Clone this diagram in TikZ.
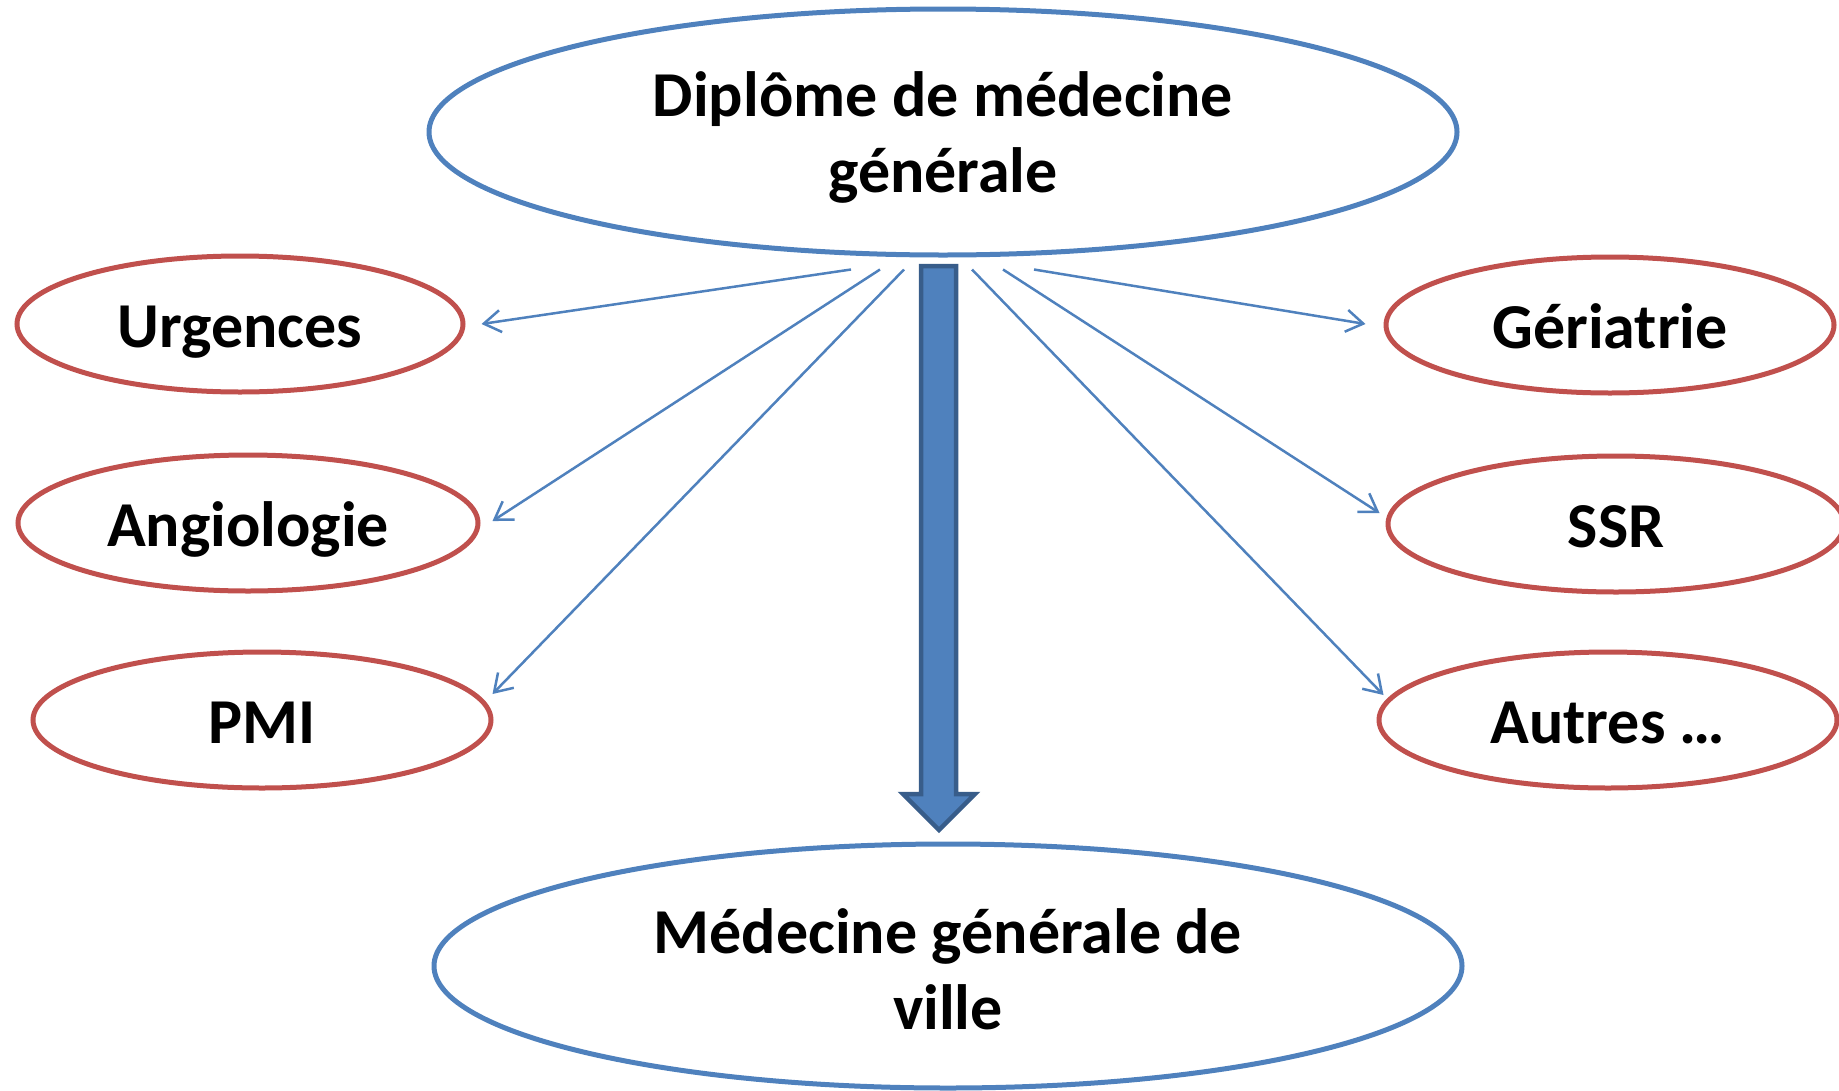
\documentclass[tikz,border=0pt]{standalone}
\usepackage{fontspec}
\setmainfont{Carlito}
\usetikzlibrary{shapes.geometric,arrows.meta,calc}
\definecolor{ublue}{HTML}{4F81BD}
\definecolor{ured}{HTML}{C0504D}
\definecolor{dblue}{HTML}{385D8A}
\begin{document}
\begin{tikzpicture}[x=1pt,y=-1pt,
  txt/.style={font=\fontsize{64}{76}\selectfont\bfseries, align=center},
  bigell/.style={ellipse, draw=ublue, line width=5pt, inner sep=0pt},
  smell/.style={ellipse, draw=ured, line width=5pt, inner sep=0pt, minimum height=136pt, txt, text height=46pt, text depth=0pt},
  conn/.style={draw=ublue, line width=2.5pt, -{Straight Barb[length=17pt,width=22pt,line width=2.5pt]}}
]
\useasboundingbox (0,0) rectangle (1839,1090);
\node[bigell, minimum width=1028pt, minimum height=246pt] (top) at (943,132) {};
\node[txt] (toptxt) at (943,137) {Diplôme de médecine\\générale};
\node[bigell, minimum width=1028pt, minimum height=244pt] (bot) at (948,966) {};
\node[txt] (bottxt) at (948,969) {Médecine générale de\\ville};
\node[smell, minimum width=446pt] (u) at (240,324) {Urgences};
\node[smell, minimum width=460pt] (a) at (248,523) {Angiologie};
\node[smell, minimum width=458pt] (p) at (262,720) {PMI};
\node[smell, minimum width=448pt] (g) at (1610,325) {Gériatrie};
\node[smell, minimum width=456pt] (s) at (1616,524) {SSR};
\node[smell, minimum width=458pt] (au) at (1608,720) {Autres …};
\coordinate (s1) at ($(top.south)+(-92,12)$);
\coordinate (s2) at ($(top.south)+(-63,12)$);
\coordinate (s3) at ($(top.south)+(-39,12)$);
\coordinate (s4) at ($(top.south)+(29,12)$);
\coordinate (s5) at ($(top.south)+(60,12)$);
\coordinate (s6) at ($(top.south)+(91,12)$);
\coordinate (e1) at ($(u.east)+(16,0)$);
\coordinate (e2) at ($(a.east)+(12,-2)$);
\coordinate (e3) at ($(p.east)+(-1,-26)$);
\coordinate (e4) at ($(au.west)+(7,-25)$);
\coordinate (e5) at ($(s.west)+(-6,-11)$);
\coordinate (e6) at ($(g.west)+(-18,-1)$);
\draw[conn] (s1) -- (e1);
\draw[conn] (s2) -- (e2);
\draw[conn] (s3) -- (e3);
\draw[conn] (s4) -- (e4);
\draw[conn] (s5) -- (e5);
\draw[conn] (s6) -- (e6);
\draw[fill=ublue, draw=dblue, line width=4.5pt, line join=miter]
  (921,266) -- (956,266) -- (956,794) -- (975,794) -- (939,830) -- (903,794) -- (921,794) -- cycle;
\end{tikzpicture}
\end{document}
